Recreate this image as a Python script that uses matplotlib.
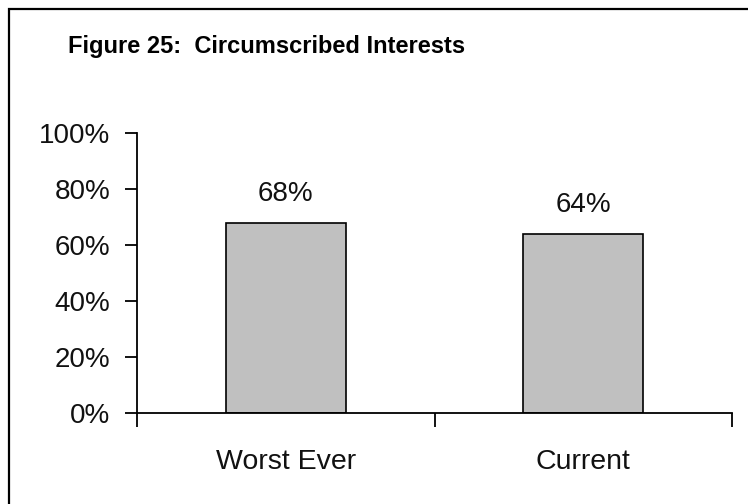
import matplotlib
matplotlib.use("Agg")
import matplotlib.pyplot as plt
from matplotlib.patches import Rectangle

# data
categories = ["Worst Ever", "Current"]
values = [68, 64]
yticks = [0, 20, 40, 60, 80, 100]

plt.rcParams["font.family"] = ["Liberation Sans", "DejaVu Sans"]

fig = plt.figure(figsize=(7.48, 5.04), dpi=100)
ax = fig.add_axes([137 / 748, 1 - 413 / 504, (732 - 137) / 748, (413 - 133) / 504])

x = range(len(categories))
ax.bar(x, values, width=0.405, color="#c0c0c0", edgecolor="black", linewidth=1.2, zorder=2)
for xi, v in zip(x, values):
    ax.text(xi, v + 5.7, f"{v}%", ha="center", va="bottom", fontsize=20, color="#111111")

ax.set_xlim(-0.5, 1.5)
ax.set_ylim(0, 100)
ax.set_yticks(yticks)
ax.set_yticklabels([f"{t}%" for t in yticks], fontsize=20, color="#111111")
ax.tick_params(axis="y", direction="out", length=9, width=1.3, pad=10)

# category boundaries as major ticks, names on minor ticks
ax.set_xticks([-0.5, 0.5, 1.5])
ax.set_xticklabels([])
ax.set_xticks(list(x), minor=True)
ax.set_xticklabels(categories, minor=True, fontsize=20.5, color="#111111")
ax.tick_params(axis="x", which="major", direction="out", length=10, width=1.3)
ax.tick_params(axis="x", which="minor", length=0, pad=26)

for s in ["top", "right"]:
    ax.spines[s].set_visible(False)
for s in ["left", "bottom"]:
    ax.spines[s].set_linewidth(1.3)

fig.text(267 / 748, 1 - 46 / 504, "Figure 25:  Circumscribed Interests",
         ha="center", va="center", fontsize=17, fontweight="bold")

# outer chart border (cut off at right and bottom)
fig.patches.append(Rectangle((9 / 748, -0.5), 2, 1.5 - 9 / 504, transform=fig.transFigure,
                             fill=False, edgecolor="black", linewidth=1.6))

fig.savefig("out.png", dpi=100)
